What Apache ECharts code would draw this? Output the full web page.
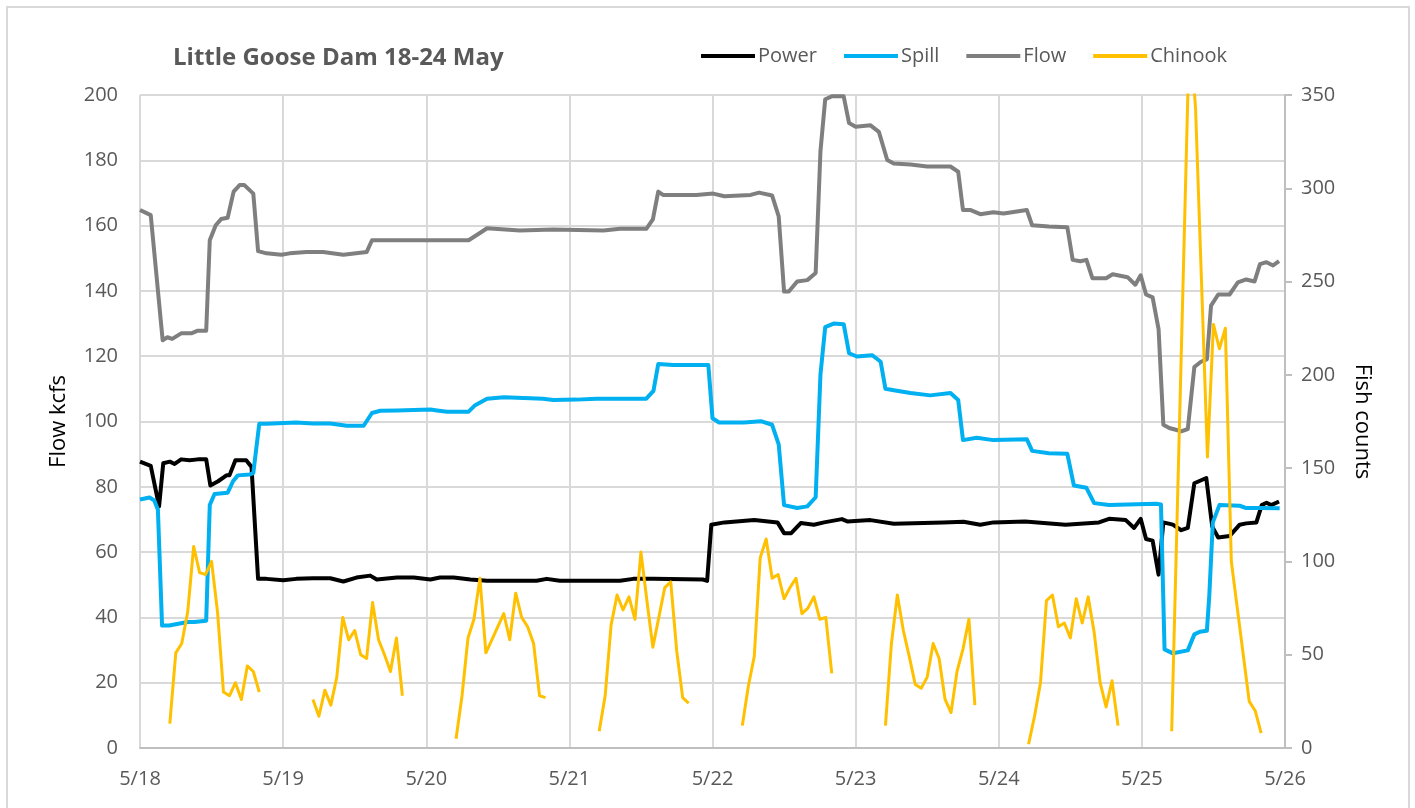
<!DOCTYPE html>
<html>
<head>
<meta charset="utf-8">
<title>Little Goose Dam 18-24 May</title>
<script src="https://cdn.jsdelivr.net/npm/echarts@6/dist/echarts.min.js"></script>
<style>
    html, body { margin: 0; padding: 0; background: #fff; }
    #chart { width: 1415px; height: 808px; }
</style>
</head>
<body>
<div id="chart"></div>
<script>
// x is hours since 5/18 00:00
const dateLabels = ['5/18', '5/19', '5/20', '5/21', '5/22', '5/23', '5/24', '5/25', '5/26'];

const powerPts = [
    [0, 87.7], [1.8, 86.4], [3.2, 74], [3.9, 87.2], [5, 87.7], [5.8, 87], [6.9, 88.4], [8.3, 88.1],
    [9.7, 88.4], [11.1, 88.4], [11.8, 80.4], [13.1, 81.7], [14.5, 83.5], [15, 83.5], [16, 88.1],
    [17.8, 88.1], [18.7, 86.1], [19.8, 51.8], [21.2, 51.8], [24, 51.4], [26.2, 51.8], [29, 52],
    [31.9, 52], [34.1, 51], [36.3, 52.2], [38.6, 52.8], [39.7, 51.6], [43.1, 52.2], [45.9, 52.2],
    [48.7, 51.6], [50.3, 52.2], [52.6, 52.2], [55.4, 51.6], [58.2, 51.2], [66.5, 51.2], [68.2, 51.8],
    [70.4, 51.2], [80.5, 51.2], [82.7, 51.8], [86.1, 51.8], [94.4, 51.6], [95.1, 51.2], [95.8, 68.4],
    [98, 69.1], [103, 69.8], [106.9, 69.1], [108, 65.8], [109.2, 65.8], [110.8, 68.9], [113, 68.4],
    [114.7, 69.1], [117.7, 70.1], [118.6, 69.4], [122.5, 69.8], [126.4, 68.7], [134.7, 69.1],
    [138.1, 69.3], [140.9, 68.4], [143.1, 69.1], [148.4, 69.4], [155.2, 68.4], [160.8, 69.1],
    [162.5, 70.2], [165.3, 69.8], [166.7, 67.4], [167.8, 70.2], [168.7, 64], [169.8, 63.5],
    [170.8, 53.1], [171.6, 69.1], [173.2, 68.4], [174.6, 66.7], [175.7, 67.4], [176.8, 81.1],
    [178.8, 82.7], [179.8, 67.8], [180.8, 64.5], [182.7, 64.9], [184.4, 68.4], [185.5, 68.8],
    [187.2, 69.1], [188.1, 74.4], [188.9, 75.1], [189.7, 74.4], [191, 75.5]
];

const spillPts = [
    [0, 76.1], [1.6, 76.7], [2.4, 75.8], [3, 73], [3.7, 37.5], [4.9, 37.5], [8, 38.6], [9.1, 38.6],
    [11.1, 39], [11.7, 74.4], [12.5, 77.8], [14.7, 78.2], [15.6, 81.7], [16.4, 83.5], [18.4, 83.8],
    [19, 84.2], [20, 99.3], [21.2, 99.3], [26.2, 99.7], [29, 99.4], [31.9, 99.4], [34.7, 98.7],
    [37.5, 98.7], [38.9, 102.6], [40.3, 103.3], [43.1, 103.4], [48.7, 103.7], [49.8, 103.4],
    [51.5, 103], [55.1, 103], [56.2, 105], [58.2, 107], [61, 107.4], [67.6, 107], [69.3, 106.6],
    [73.2, 106.7], [76.6, 107], [84.9, 107], [86.1, 109.4], [86.9, 117.6], [89.4, 117.3],
    [95.3, 117.3], [96, 101], [97.1, 99.7], [101.3, 99.7], [104.1, 100.1], [106, 99], [107.1, 93],
    [108, 74.4], [110.2, 73.5], [111.9, 74], [113.3, 76.8], [114.1, 114.3], [114.9, 128.9],
    [116.3, 130], [118, 129.8], [118.9, 120.9], [120.2, 119.9], [122.8, 120.3], [124.2, 118.3],
    [125, 110], [126.4, 109.6], [129.2, 108.7], [132.5, 108], [135.9, 108.7], [137.2, 106.6],
    [138, 94.3], [140.3, 95], [143.1, 94.3], [148.7, 94.6], [149.6, 91], [152.4, 90.3],
    [155.5, 90.1], [156.6, 80.4], [158.7, 79.7], [160, 75], [162.5, 74.4], [170.4, 74.8],
    [171.2, 74.6], [171.8, 30.2], [173.2, 29], [175.7, 29.9], [176.8, 34.8], [177.7, 35.6],
    [178.9, 35.9], [179.3, 46.5], [179.9, 69.1], [181, 74.4], [184.4, 74.2], [185.5, 73.5],
    [187.8, 73.5], [191.1, 73.4]
];

const flowPts = [
    [0, 164.8], [1.8, 163.2], [3.8, 124.9], [4.6, 125.8], [5.4, 125.3], [6.9, 127], [8.6, 127],
    [9.7, 127.8], [11.1, 127.8], [11.7, 155.5], [12.7, 160.1], [13.6, 162], [14.7, 162.4],
    [15.7, 170.4], [16.7, 172.4], [17.5, 172.4], [19, 169.8], [19.8, 152.2], [21.2, 151.5],
    [23.7, 151.1], [25.1, 151.5], [27.9, 151.9], [30.7, 151.9], [34.1, 151.1], [38, 151.9],
    [38.9, 155.5], [51.5, 155.5], [55.1, 155.5], [56.8, 157.5], [58.2, 159.2], [63.7, 158.5],
    [69.3, 158.8], [77.7, 158.5], [80.5, 159], [84.9, 159], [86, 161.9], [86.9, 170.4],
    [87.7, 169.4], [93.3, 169.4], [96.1, 169.8], [98, 169], [102.4, 169.4], [103.8, 170.1],
    [106, 169.2], [107.1, 162.8], [108, 139.8], [108.8, 139.8], [110.2, 142.9], [111.9, 143.3],
    [113.3, 145.5], [114.1, 182.7], [114.9, 198.7], [116, 199.6], [118, 199.6], [118.9, 191.4],
    [120, 190.3], [122.5, 190.7], [123.9, 188.7], [125.3, 180.1], [126.4, 179], [129.2, 178.7],
    [132, 178.1], [135.9, 178.1], [137.2, 176.5], [138, 164.8], [139.2, 164.8], [140.9, 163.5],
    [143.1, 164.1], [144.8, 163.7], [146.2, 164.1], [148.7, 164.8], [149.6, 160.1], [152.4, 159.7],
    [155.5, 159.5], [156.4, 149.5], [157.7, 149.1], [158.7, 149.5], [159.7, 143.9], [162, 143.9],
    [163.1, 145.1], [165.6, 144.2], [166.9, 141.9], [167.8, 144.8], [168.7, 138.9], [169.8, 138],
    [170.8, 128.3], [171.6, 99], [172.6, 98], [174.6, 97], [175.7, 97.7], [176.8, 116.7],
    [177.9, 118.3], [178.9, 119], [179.6, 135.5], [180.8, 138.9], [182.7, 138.9], [184.1, 142.6],
    [185.5, 143.5], [186.9, 142.9], [187.8, 148.2], [188.9, 148.8], [190, 147.8], [191, 149.1]
];

// hourly fish counts, daylight only: first hour of each run, then the counts
const chinookStarts = [5, 29, 53, 77, 101, 125, 149, 173];
const chinookCounts = [
    [13, 51, 56, 73, 108, 94, 93, 100, 73, 30, 28, 35, 26, 44, 41, 30],
    [26, 17, 31, 23, 38, 70, 58, 63, 50, 48, 78, 58, 50, 41, 59, 28],
    [5, 28, 59, 69, 91, 51, 58, 65, 72, 58, 83, 70, 65, 56, 28, 27],
    [9, 28, 66, 82, 74, 81, 69, 105, 79, 54, 70, 86, 89, 52, 27, 24],
    [12, 33, 49, 102, 112, 91, 93, 80, 86, 91, 72, 75, 81, 69, 70, 40],
    [12, 56, 82, 63, 49, 34, 32, 38, 56, 48, 26, 19, 41, 53, 69, 23],
    [2, 17, 35, 79, 82, 65, 67, 59, 80, 67, 81, 62, 35, 22, 36, 12],
    [9, 135, 261, 387, 343, 250, 156, 227, 214, 225, 100, 75, 50, 25, 20, 8]
];

let chinookData = [];
chinookStarts.forEach((start, i) => {
    chinookCounts[i].forEach((c, j) => chinookData.push([start + j, c]));
    chinookData.push([start + chinookCounts[i].length, '-']);
});

const gridColor = '#D9D9D9';
const labelColor = '#595959';
const font = '"Open Sans", sans-serif';

let chart = echarts.init(document.getElementById('chart'));

let option = {
    animation: false,
    textStyle: { fontFamily: font },
    graphic: [{
        type: 'rect',
        shape: { x: 7, y: 7, width: 1402, height: 830 },
        style: { fill: 'none', stroke: gridColor, lineWidth: 2 },
        silent: true
    }],
    title: {
        text: 'Little Goose Dam 18-24 May',
        left: 168,
        top: 41,
        textStyle: { fontFamily: font, fontSize: 24, fontWeight: 'bold', color: labelColor }
    },
    legend: {
        left: 696,
        top: 41,
        icon: 'rect',
        itemWidth: 54,
        itemHeight: 4,
        itemGap: 27,
        textStyle: { fontFamily: font, fontSize: 20, color: labelColor, padding: [0, 0, 0, -2] },
        data: ['Power', 'Spill', 'Flow', 'Chinook']
    },
    grid: { left: 140, right: 130, top: 95, bottom: 60 },
    xAxis: {
        type: 'value',
        min: 0,
        max: 192,
        interval: 24,
        axisLine: { show: true, lineStyle: { color: '#BFBFBF', width: 2 } },
        axisTick: { show: false },
        axisLabel: {
            margin: 21,
            fontSize: 20,
            color: labelColor,
            formatter: (v) => dateLabels[v / 24]
        },
        splitLine: { show: true, lineStyle: { color: gridColor, width: 2 } }
    },
    yAxis: [
        {
            type: 'value',
            min: 0,
            max: 200,
            interval: 20,
            name: 'Flow kcfs',
            nameLocation: 'middle',
            nameGap: 70,
            nameTextStyle: { fontFamily: font, fontSize: 22, color: '#000' },
            axisLine: { show: false },
            axisTick: { show: false },
            axisLabel: { margin: 22, fontSize: 20, color: labelColor },
            splitLine: { show: true, lineStyle: { color: gridColor, width: 2 } }
        },
        {
            type: 'value',
            min: 0,
            max: 350,
            interval: 50,
            name: 'Fish counts',
            nameLocation: 'middle',
            nameGap: 66,
            nameRotate: -90,
            nameTextStyle: { fontFamily: font, fontSize: 22, color: '#000' },
            axisLine: { show: true, lineStyle: { color: '#BFBFBF', width: 2 } },
            axisTick: { show: true, length: 7, lineStyle: { color: '#BFBFBF', width: 2 } },
            axisLabel: { margin: 16, fontSize: 20, color: labelColor },
            splitLine: { show: false }
        }
    ],
    series: [
        {
            name: 'Power',
            type: 'line',
            data: powerPts,
            showSymbol: false,
            color: '#000000',
            lineStyle: { width: 4, join: 'round' }
        },
        {
            name: 'Spill',
            type: 'line',
            data: spillPts,
            showSymbol: false,
            color: '#00B0F0',
            lineStyle: { width: 4, join: 'round' }
        },
        {
            name: 'Flow',
            type: 'line',
            data: flowPts,
            showSymbol: false,
            color: '#7F7F7F',
            lineStyle: { width: 4, join: 'round' }
        },
        {
            name: 'Chinook',
            type: 'line',
            yAxisIndex: 1,
            data: chinookData,
            showSymbol: false,
            connectNulls: false,
            clip: true,
            color: '#FFC000',
            lineStyle: { width: 3, join: 'round' }
        }
    ]
};

chart.setOption(option);
</script>
</body>
</html>
